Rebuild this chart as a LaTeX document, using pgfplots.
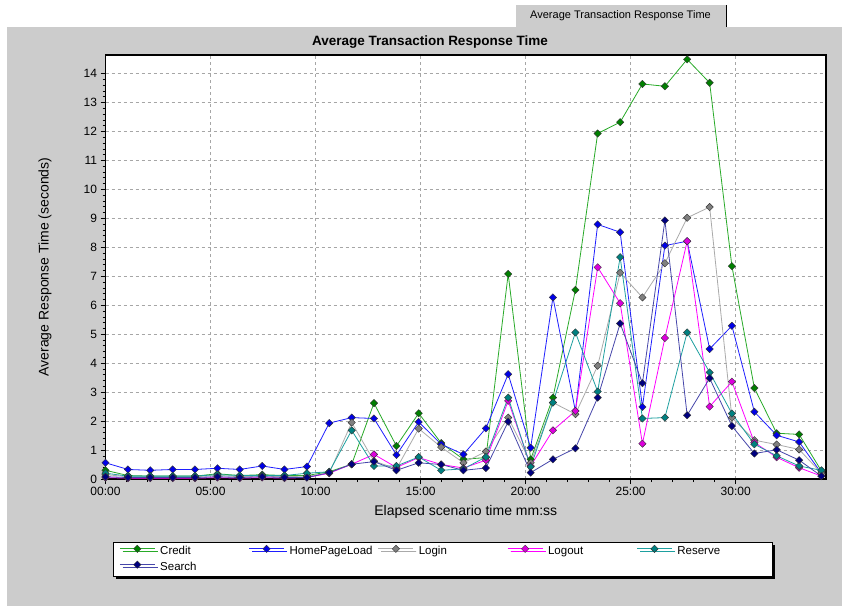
\documentclass[border=0pt]{standalone}
\usepackage{fontspec}
\setmainfont{Liberation Sans}
\usepackage{pgfplots}
\pgfplotsset{compat=1.18}
\usepackage{pgfplotstable}
\usetikzlibrary{shadows}

\definecolor{panel}{RGB}{204,204,204}
\definecolor{lnCredit}{RGB}{40,170,40}
\definecolor{mkCredit}{RGB}{0,128,0}
\definecolor{lnHome}{RGB}{30,30,255}
\definecolor{mkHome}{RGB}{0,0,230}
\definecolor{lnLogin}{RGB}{170,170,170}
\definecolor{mkLogin}{RGB}{128,128,128}
\definecolor{lnLogout}{RGB}{255,0,255}
\definecolor{mkLogout}{RGB}{220,0,220}
\definecolor{lnReserve}{RGB}{30,160,160}
\definecolor{mkReserve}{RGB}{0,128,128}
\definecolor{lnSearch}{RGB}{70,70,170}
\definecolor{mkSearch}{RGB}{0,0,128}

% time in minutes, one sample about every 64 s
\pgfplotstableread{
t     credit home login logout reserve search
0.00  0.30  0.56  0.15  0.05  0.20  0.08
1.07  0.12  0.33  0.08  0.03  0.10  0.05
2.13  0.10  0.30  0.08  0.03  0.10  0.05
3.20  0.10  0.33  0.08  0.03  0.10  0.05
4.26  0.10  0.33  0.08  0.03  0.10  0.05
5.33  0.18  0.37  0.12  0.05  0.15  0.08
6.39  0.12  0.33  0.08  0.03  0.12  0.05
7.46  0.15  0.45  0.10  0.05  0.12  0.08
8.52  0.12  0.33  0.08  0.03  0.12  0.05
9.59  0.12  0.43  0.10  0.05  0.20  0.05
10.65 0.25  1.93  0.20  0.20  0.25  0.22
11.72 0.51  2.12  1.95  0.51  1.68  0.51
12.78 2.62  2.09  0.62  0.85  0.45  0.60
13.85 1.14  0.83  0.35  0.40  0.45  0.30
14.91 2.27  1.97  1.74  0.74  0.76  0.56
15.98 1.24  1.20  1.10  0.50  0.30  0.50
17.04 0.68  0.85  0.56  0.38  0.35  0.30
18.11 0.74  1.75  0.95  0.65  0.76  0.38
19.17 7.08  3.62  2.12  2.70  2.81  1.98
20.24 0.68  1.08  0.56  0.45  0.42  0.22
21.30 2.81  6.27  2.64  1.68  2.64  0.68
22.37 6.53  2.35  2.24  2.35  5.06  1.06
23.43 11.93 8.79  3.91  7.31  3.02  2.81
24.50 12.32 8.52  7.12  6.07  7.66  5.37
25.56 13.64 2.49  6.27  1.22  2.09  3.31
26.63 13.56 8.06  7.45  4.87  2.12  8.93
27.69 14.49 8.21  9.02  8.21  5.06  2.20
28.76 13.68 4.49  9.39  2.50  3.68  3.48
29.82 7.35  5.29  2.12  3.36  2.26  1.83
30.89 3.14  2.32  1.34  1.26  1.20  0.88
31.95 1.58  1.51  1.19  0.75  0.80  1.01
33.02 1.54  1.28  1.02  0.39  0.45  0.65
34.08 0.28  0.20  0.20  0.10  0.30  0.10
}\data

\begin{document}
\begin{tikzpicture}[x=1pt,y=1pt]
\fill[white] (0,0) rectangle (842,606);
\fill[panel] (7,0) rectangle (842,579);
\fill[panel] (515,579) rectangle (726,601);
\draw[white,line width=1pt] (515,579) -- (515,601) -- (725,601);
\draw[black,line width=1pt] (726,601) -- (726,579);
\node[font=\fontsize{11}{13}\selectfont] at (620.5,590) {Average Transaction Response Time};
\node[font=\bfseries\fontsize{13.5}{16}\selectfont] at (430,564) {Average Transaction Response Time};

\begin{axis}[
    at={(105.5pt,127pt)}, anchor=south west,
    scale only axis,
    width=720.5pt, height=424pt,
    xmin=0, xmax=34.3,
    ymin=0, ymax=14.64,
    axis background/.style={fill=white},
    axis line style={black, line width=1.3pt},
    tick pos=left,
    tick align=outside,
    major tick length=5pt,
    minor tick length=3pt,
    tick style={black, line width=0.6pt},
    xtick={0,5,10,15,20,25,30},
    xticklabels={00:00,05:00,10:00,15:00,20:00,25:00,30:00},
    minor x tick num=4,
    ytick={0,1,...,14},
    minor y tick num=4,
    grid=major,
    major grid style={gray!70, dashed, line width=0.6pt},
    ticklabel style={font=\fontsize{12}{14}\selectfont},
    /pgf/number format/assume math mode=true,
    xlabel={Elapsed scenario time mm:ss},
    ylabel={Average Response Time (seconds)},
    label style={font=\fontsize{14}{16}\selectfont},
    xlabel style={at={(axis description cs:0.5,-0.078)}, anchor=center},
    ylabel style={at={(axis description cs:-0.084,0.5)}, anchor=center},
    legend columns=5,
    legend style={at={(axis description cs:0.0104,-0.1486)}, anchor=north west,
        font=\fontsize{11.5}{13}\selectfont, draw=black, fill=white,
        line width=0.8pt, inner xsep=6pt, inner ysep=2pt, row sep=2pt,
        drop shadow={shadow xshift=3pt, shadow yshift=-3pt, fill=black, opacity=1},
        /tikz/every even column/.append style={column sep=0pt}},
    legend image code/.code={\draw[mark repeat=2,mark phase=2,#1]
        plot coordinates {(0pt,2.5pt) (17.5pt,2.5pt) (35pt,2.5pt)};},
    every axis plot/.append style={line width=0.8pt, mark=square*, mark size=2.6pt},
]
\addplot[color=lnCredit, mark options={rotate=45, fill=mkCredit, draw=black!80, line width=0.4pt}] table[x=t, y=credit] {\data};
\addlegendentry{\makebox[89.5pt][l]{\hspace*{3pt}Credit}}
\addplot[color=lnHome, mark options={rotate=45, fill=mkHome, draw=black!80, line width=0.4pt}] table[x=t, y=home] {\data};
\addlegendentry{\makebox[89.5pt][l]{\hspace*{3pt}HomePageLoad}}
\addplot[color=lnLogin, mark options={rotate=45, fill=mkLogin, draw=black!80, line width=0.4pt}] table[x=t, y=login] {\data};
\addlegendentry{\makebox[89.5pt][l]{\hspace*{3pt}Login}}
\addplot[color=lnLogout, mark options={rotate=45, fill=mkLogout, draw=black!80, line width=0.4pt}] table[x=t, y=logout] {\data};
\addlegendentry{\makebox[89.5pt][l]{\hspace*{3pt}Logout}}
\addplot[color=lnReserve, mark options={rotate=45, fill=mkReserve, draw=black!80, line width=0.4pt}] table[x=t, y=reserve] {\data};
\addlegendentry{\makebox[89.5pt][l]{\hspace*{3pt}Reserve}}
\addplot[color=lnSearch, mark options={rotate=45, fill=mkSearch, draw=black!80, line width=0.4pt}] table[x=t, y=search] {\data};
\addlegendentry{\makebox[89.5pt][l]{\hspace*{3pt}Search}}
\end{axis}
\end{tikzpicture}
\end{document}
